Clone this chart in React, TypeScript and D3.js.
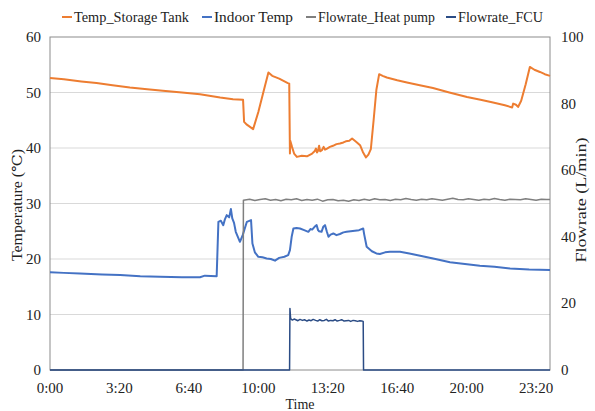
import React from "react";
import * as d3 from "d3";

// time in minutes since 0:00, value
const storageTank: [number, number][] = [
  [0, 52.6], [40, 52.4], [90, 52.0], [134, 51.7], [180, 51.3], [230, 50.9], [280, 50.6], [325, 50.3],
  [380, 50.0], [432, 49.7], [490, 49.1], [527, 48.8], [556, 48.7], [559, 44.7], [567, 44.2], [585, 43.4],
  [600, 46.5], [615, 50.2], [629, 53.6], [640, 53.0], [660, 52.5], [685, 51.7], [689, 51.6], [691, 39.0],
  [692, 41.3], [697, 40.2], [703, 39.0], [711, 38.4], [725, 38.6], [740, 38.5], [755, 39.0], [762, 39.4],
  [766, 39.9], [769, 39.2], [772, 39.5], [775, 40.4], [778, 39.4], [783, 39.6], [788, 40.2], [792, 39.7],
  [798, 39.9], [806, 40.2], [815, 40.4], [825, 40.7], [835, 40.8], [845, 41.0], [852, 41.2], [862, 41.3],
  [870, 41.7], [878, 41.3], [884, 41.0], [893, 40.5], [901, 39.3], [910, 38.3], [917, 38.8], [924, 39.8],
  [932, 45.0], [940, 50.5], [948, 53.3], [958, 53.0], [970, 52.7], [1000, 52.2], [1028, 51.8], [1065, 51.3],
  [1103, 50.8], [1150, 50.0], [1201, 49.2], [1240, 48.7], [1276, 48.2], [1310, 47.7], [1331, 47.3], [1334, 48.0],
  [1342, 47.8], [1348, 47.4], [1357, 48.5], [1370, 51.5], [1382, 54.6], [1395, 54.1], [1411, 53.7], [1425, 53.3], [1440, 53.0],
];

const indoorTemp: [number, number][] = [
  [0, 17.6], [40, 17.5], [86, 17.4], [150, 17.2], [202, 17.1], [260, 16.9], [317, 16.8], [380, 16.7],
  [432, 16.7], [446, 17.0], [480, 16.9], [485, 26.7], [492, 26.9], [499, 26.1], [504, 27.2], [509, 27.9],
  [516, 27.5], [521, 29.0], [525, 27.3], [530, 26.5], [535, 24.9], [547, 23.1], [555, 24.3], [567, 26.7],
  [579, 27.0], [583, 22.8], [590, 21.2], [600, 20.4], [612, 20.3], [624, 20.1], [636, 20.0], [648, 19.7],
  [660, 20.2], [675, 20.4], [686, 20.7], [691, 21.6], [696, 24.0], [701, 25.5], [710, 25.6], [720, 25.5],
  [732, 25.2], [744, 24.9], [750, 25.4], [755, 25.3], [762, 25.8], [768, 26.1], [772, 25.2], [775, 25.0],
  [782, 24.9], [787, 25.8], [792, 26.1], [797, 25.0], [802, 24.0], [808, 24.4], [816, 24.6], [825, 24.3],
  [835, 24.5], [845, 24.8], [854, 24.9], [866, 25.0], [878, 25.1], [890, 25.2], [902, 25.5], [905, 24.4],
  [912, 22.2], [927, 21.4], [940, 21.0], [950, 20.9], [965, 21.2], [979, 21.3], [1008, 21.3], [1035, 21.0],
  [1066, 20.6], [1110, 20.0], [1152, 19.4], [1195, 19.1], [1238, 18.8], [1280, 18.6], [1325, 18.3],
  [1380, 18.1], [1440, 18.0],
];

const flowHeatPump: [number, number][] = [
  [0, 0], [556, 0], [557, 51.0], [575, 51.3], [590, 50.9], [605, 51.2], [620, 51.4], [635, 51.0],
  [650, 51.2], [665, 50.8], [680, 51.3], [695, 51.1], [710, 51.4], [725, 50.9], [740, 51.2], [755, 51.0],
  [770, 51.3], [785, 50.7], [800, 51.1], [815, 51.2], [830, 50.8], [845, 51.0], [860, 50.7], [875, 51.1],
  [890, 50.9], [905, 51.3], [920, 51.0], [935, 51.4], [950, 51.1], [965, 51.2], [980, 50.9], [995, 51.3],
  [1010, 51.1], [1025, 51.5], [1040, 51.2], [1055, 51.0], [1070, 51.3], [1085, 51.1], [1100, 51.4], [1115, 51.2],
  [1130, 51.0], [1145, 51.3], [1160, 51.6], [1175, 51.2], [1190, 51.1], [1205, 51.4], [1220, 51.2], [1235, 51.0],
  [1250, 51.3], [1265, 51.1], [1280, 51.5], [1295, 51.2], [1310, 51.0], [1325, 51.3], [1340, 51.2], [1355, 51.1],
  [1370, 51.4], [1385, 51.2], [1400, 51.0], [1415, 51.3], [1430, 51.2], [1440, 51.2],
];

const flowFCU: [number, number][] = [
  [0, 0], [690, 0], [691, 18.5], [693, 15.4], [698, 15.0], [703, 15.3], [708, 15.1], [714, 14.8],
  [720, 15.2], [727, 14.9], [733, 15.1], [740, 14.7], [746, 15.0], [752, 14.8], [758, 15.2], [765, 14.9],
  [771, 14.7], [777, 15.1], [783, 14.8], [790, 14.9], [796, 15.2], [802, 14.7], [808, 14.9], [815, 14.8],
  [821, 15.1], [827, 14.7], [834, 14.9], [840, 15.1], [847, 14.7], [853, 14.8], [860, 14.9], [866, 14.6],
  [873, 14.9], [879, 14.8], [886, 14.6], [892, 14.8], [898, 14.7], [902, 14.6], [903, 0], [1440, 0],
];

const leftTicks = [0, 10, 20, 30, 40, 50, 60];
const rightTicks = [0, 20, 40, 60, 80, 100];
const timeTicks = [0, 200, 400, 600, 800, 1000, 1200, 1400];
const timeLabels = ["0:00", "3:20", "6:40", "10:00", "13:20", "16:40", "20:00", "23:20"];

const seriesNames = ["Temp_Storage Tank", "Indoor Temp", "Flowrate_Heat pump", "Flowrate_FCU"];
const seriesColors = ["#ED7D31", "#4472C4", "#7F7F7F", "#2B4C85"];

export default function App() {
  const W = 595, H = 411;
  const L = 50, R = 550, T = 37, B = 370;
  const x = d3.scaleLinear().domain([0, 1440]).range([L, R]);
  const yL = d3.scaleLinear().domain([0, 60]).range([B, T]);
  const yR = d3.scaleLinear().domain([0, 100]).range([B, T]);
  const lineL = d3.line<[number, number]>().x(d => x(d[0])).y(d => yL(d[1]));
  const lineR = d3.line<[number, number]>().x(d => x(d[0])).y(d => yR(d[1]));
  const font = "'Liberation Serif', 'DejaVu Serif', serif";

  const legendX = [62, 202, 306, 446];
  const legendTextLen = [115, 79, 117, 85];

  return (
    <svg width={W} height={H} style={{ position: "absolute", left: 0, top: 0, background: "#fff" }} fontFamily={font}>
      <rect x={0} y={0} width={W} height={H} fill="#fff" />
      {leftTicks.slice(1, -1).map(t => (
        <line key={t} x1={L} x2={R} y1={yL(t)} y2={yL(t)} stroke="#D9D9D9" strokeWidth={1} />
      ))}
      <rect x={L} y={T} width={R - L} height={B - T} fill="none" stroke="#8C8C8C" strokeWidth={1} />
      {leftTicks.map(t => (
        <text key={t} x={41} y={yL(t) + 5} textAnchor="end" fontSize={15} fill="#222">{t}</text>
      ))}
      {rightTicks.map(t => (
        <text key={t} x={561} y={yR(t) + 5} textAnchor="start" fontSize={15} fill="#222">{t}</text>
      ))}
      {timeTicks.map((t, i) => (
        <text key={t} x={x(t)} y={393} textAnchor="middle" fontSize={15} fill="#222">{timeLabels[i]}</text>
      ))}
      <text x={300} y={409} textAnchor="middle" fontSize={14} fill="#222">Time</text>
      <text transform="translate(22,205) rotate(-90)" textAnchor="middle" fontSize={14} fill="#222"
        textLength={112} lengthAdjust="spacingAndGlyphs">Temperature (℃)</text>
      <text transform="translate(586,200) rotate(-90)" textAnchor="middle" fontSize={14} fill="#222"
        textLength={125} lengthAdjust="spacingAndGlyphs">Flowrate (L/min)</text>

      <path d={lineL(storageTank) ?? ""} fill="none" stroke={seriesColors[0]} strokeWidth={2} strokeLinejoin="round" />
      <path d={lineL(indoorTemp) ?? ""} fill="none" stroke={seriesColors[1]} strokeWidth={2} strokeLinejoin="round" />
      <path d={lineR(flowHeatPump) ?? ""} fill="none" stroke={seriesColors[2]} strokeWidth={1.5} strokeLinejoin="round" />
      <path d={lineR(flowFCU) ?? ""} fill="none" stroke={seriesColors[3]} strokeWidth={1.5} strokeLinejoin="round" />

      {seriesNames.map((n, i) => (
        <g key={n}>
          <line x1={legendX[i]} x2={legendX[i] + 10} y1={17} y2={17} stroke={seriesColors[i]} strokeWidth={2} />
          <text x={legendX[i] + 12} y={22} fontSize={14} fill="#222"
            textLength={legendTextLen[i]} lengthAdjust="spacingAndGlyphs">{n}</text>
        </g>
      ))}
    </svg>
  );
}
